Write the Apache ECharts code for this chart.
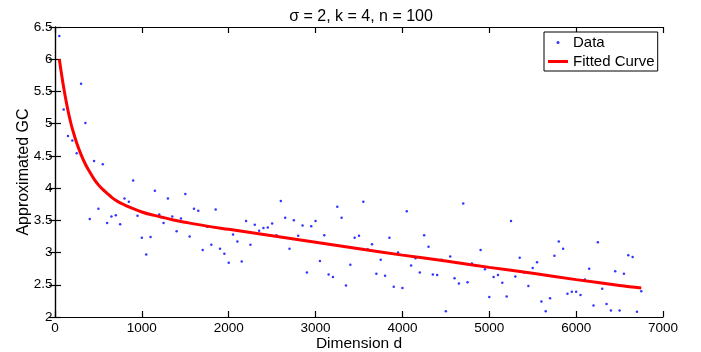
<!DOCTYPE html>
<html>
<head>
<meta charset="utf-8">
<script src="https://cdn.jsdelivr.net/npm/echarts@6/dist/echarts.min.js"></script>
<style>html,body{margin:0;padding:0;background:#fff;}#c{width:701px;height:352px;}</style>
</head>
<body>
<div id="c"></div>
<script>
var titleText = 'σ = 2, k = 4, n = 100';
var xName = 'Dimension d';
var yName = 'Approximated GC';
var legendNames = ['Data', 'Fitted Curve'];
var xTicks = [0, 1000, 2000, 3000, 4000, 5000, 6000, 7000];
var yTicks = [2, 2.5, 3, 3.5, 4, 4.5, 5, 5.5, 6, 6.5];

var dims = [50,100,150,200,250,300,350,400,450,500,550,600,650,700,750,800,850,900,950,1000,
1050,1100,1150,1200,1250,1300,1350,1400,1450,1500,1550,1600,1650,1700,1750,1800,1850,1900,1950,2000,
2050,2100,2150,2200,2250,2300,2350,2400,2450,2500,2550,2600,2650,2700,2750,2800,2850,2900,2950,3000,
3050,3100,3150,3200,3250,3300,3350,3400,3450,3500,3550,3600,3650,3700,3750,3800,3850,3900,3950,4000,
4050,4100,4150,4200,4250,4300,4350,4400,4450,4500,4550,4600,4650,4700,4750,4800,4850,4900,4950,5000,
5050,5100,5150,5200,5250,5300,5350,5400,5450,5500,5550,5600,5650,5700,5750,5800,5850,5900,5950,6000,
6050,6100,6150,6200,6250,6300,6350,6400,6450,6500,6550,6600,6650,6700,6750];

var gcValues = [6.36,5.22,4.81,4.74,4.54,5.62,5.01,3.52,4.42,3.68,4.37,3.46,3.56,3.58,3.44,3.84,3.79,4.12,3.57,3.23,
2.97,3.24,3.96,3.59,3.46,3.84,3.56,3.33,3.53,3.91,3.25,3.68,3.65,3.04,3.40,3.12,3.67,3.06,2.98,2.84,
3.28,3.17,2.86,3.49,3.12,3.43,3.34,3.38,3.39,3.45,3.27,3.80,3.54,3.06,3.50,3.26,3.42,2.69,3.41,3.49,
2.87,3.27,2.66,2.62,3.71,3.54,2.49,2.81,3.23,3.26,3.79,3.05,3.13,2.67,2.89,2.64,3.23,2.47,3.00,2.45,
3.64,2.80,2.91,2.69,3.27,3.09,2.66,2.65,2.89,2.09,2.94,2.60,2.52,3.76,2.54,2.83,2.79,3.04,2.74,2.31,
2.62,2.65,2.53,2.32,3.49,2.63,2.92,2.69,2.48,2.76,2.85,2.24,2.09,2.29,2.95,3.17,3.06,2.36,2.39,2.39,
2.34,2.58,2.75,2.18,3.16,2.44,2.20,2.10,2.71,2.10,2.67,2.96,2.93,2.08,2.40];

var curveD = [50,75,100,125,150,175,200,250,300,350,400,450,500,550,600,650,700,750,800,900,1000,1100,1200,1350,1500,1750,2000,2500,3000,3500,4000,4500,5000,5500,6000,6500,6750];
var curveV = [6.00,5.77,5.56,5.37,5.20,5.05,4.92,4.70,4.52,4.37,4.25,4.14,4.05,3.98,3.92,3.86,3.81,3.77,3.74,3.68,3.63,3.59,3.56,3.51,3.47,3.41,3.36,3.26,3.16,3.06,2.96,2.87,2.77,2.68,2.58,2.49,2.45];

var scatterData = dims.map(function (d, i) { return [d, gcValues[i]]; });
var curveData = curveD.map(function (d, i) { return [d, curveV[i]]; });

var FONT = 'Liberation Sans, Arial, Helvetica, sans-serif';
var axisLine = { show: true, lineStyle: { color: '#000', width: 1.2 } };
var axisTick = { show: true, inside: true, length: 6, lineStyle: { color: '#000', width: 1.2 } };
var xMin = xTicks[0], xMax = xTicks[xTicks.length - 1], xInt = xTicks[1] - xTicks[0];
var yMin = yTicks[0], yMax = yTicks[yTicks.length - 1], yInt = yTicks[1] - yTicks[0];

var chart = echarts.init(document.getElementById('c'), null, { renderer: 'canvas' });
chart.setOption({
  animation: false,
  backgroundColor: '#fff',
  title: {
    text: titleText, left: 356, top: 4, textAlign: 'center',
    textStyle: { fontFamily: FONT, fontSize: 16, fontWeight: 'normal', color: '#000' }
  },
  grid: { left: 55, right: 38, top: 27, bottom: 35, containLabel: false, outerBoundsMode: 'none' },
  legend: {
    left: 544, top: 32, orient: 'vertical',
    backgroundColor: '#fff', borderColor: '#000', borderWidth: 1,
    padding: [3, 3, 2, 4], itemGap: 4, itemWidth: 20, itemHeight: 3, itemTextGap: 3,
    textStyle: { fontFamily: FONT, fontSize: 15, color: '#000' },
    data: [
      { name: legendNames[0], icon: 'circle' },
      { name: legendNames[1], icon: 'rect' }
    ]
  },
  xAxis: [{
    type: 'value', min: xMin, max: xMax, interval: xInt,
    name: xName, nameLocation: 'middle', nameGap: 19, nameMoveOverlap: false,
    nameTextStyle: { fontFamily: FONT, fontSize: 15.5, color: '#000' },
    axisLine: axisLine, axisTick: axisTick, splitLine: { show: false },
    axisLabel: { fontFamily: FONT, fontSize: 13.5, color: '#000', margin: 4,
      formatter: function (v) { return String(v); } }
  }, {
    type: 'value', min: xMin, max: xMax, interval: xInt, position: 'top',
    axisLine: axisLine, axisTick: axisTick, splitLine: { show: false },
    axisLabel: { show: false }
  }],
  yAxis: [{
    type: 'value', min: yMin, max: yMax, interval: yInt,
    name: yName, nameLocation: 'middle', nameGap: 23, nameMoveOverlap: false,
    nameTextStyle: { fontFamily: FONT, fontSize: 16, color: '#000' },
    axisLine: axisLine, axisTick: axisTick, splitLine: { show: false },
    axisLabel: { fontFamily: FONT, fontSize: 13.5, color: '#000', margin: 2.5 }
  }, {
    type: 'value', min: yMin, max: yMax, interval: yInt, position: 'right',
    axisLine: axisLine, axisTick: axisTick, splitLine: { show: false },
    axisLabel: { show: false }
  }],
  series: [{
    name: legendNames[0], type: 'scatter', data: scatterData,
    symbol: 'circle', symbolSize: 2.5,
    itemStyle: { color: '#0000ff' }, z: 2
  }, {
    name: legendNames[1], type: 'line', data: curveData,
    smooth: 0.4, showSymbol: false, symbol: 'none',
    lineStyle: { color: '#ff0000', width: 3 }, itemStyle: { color: '#ff0000' }, z: 3
  }]
});
</script>
</body>
</html>
